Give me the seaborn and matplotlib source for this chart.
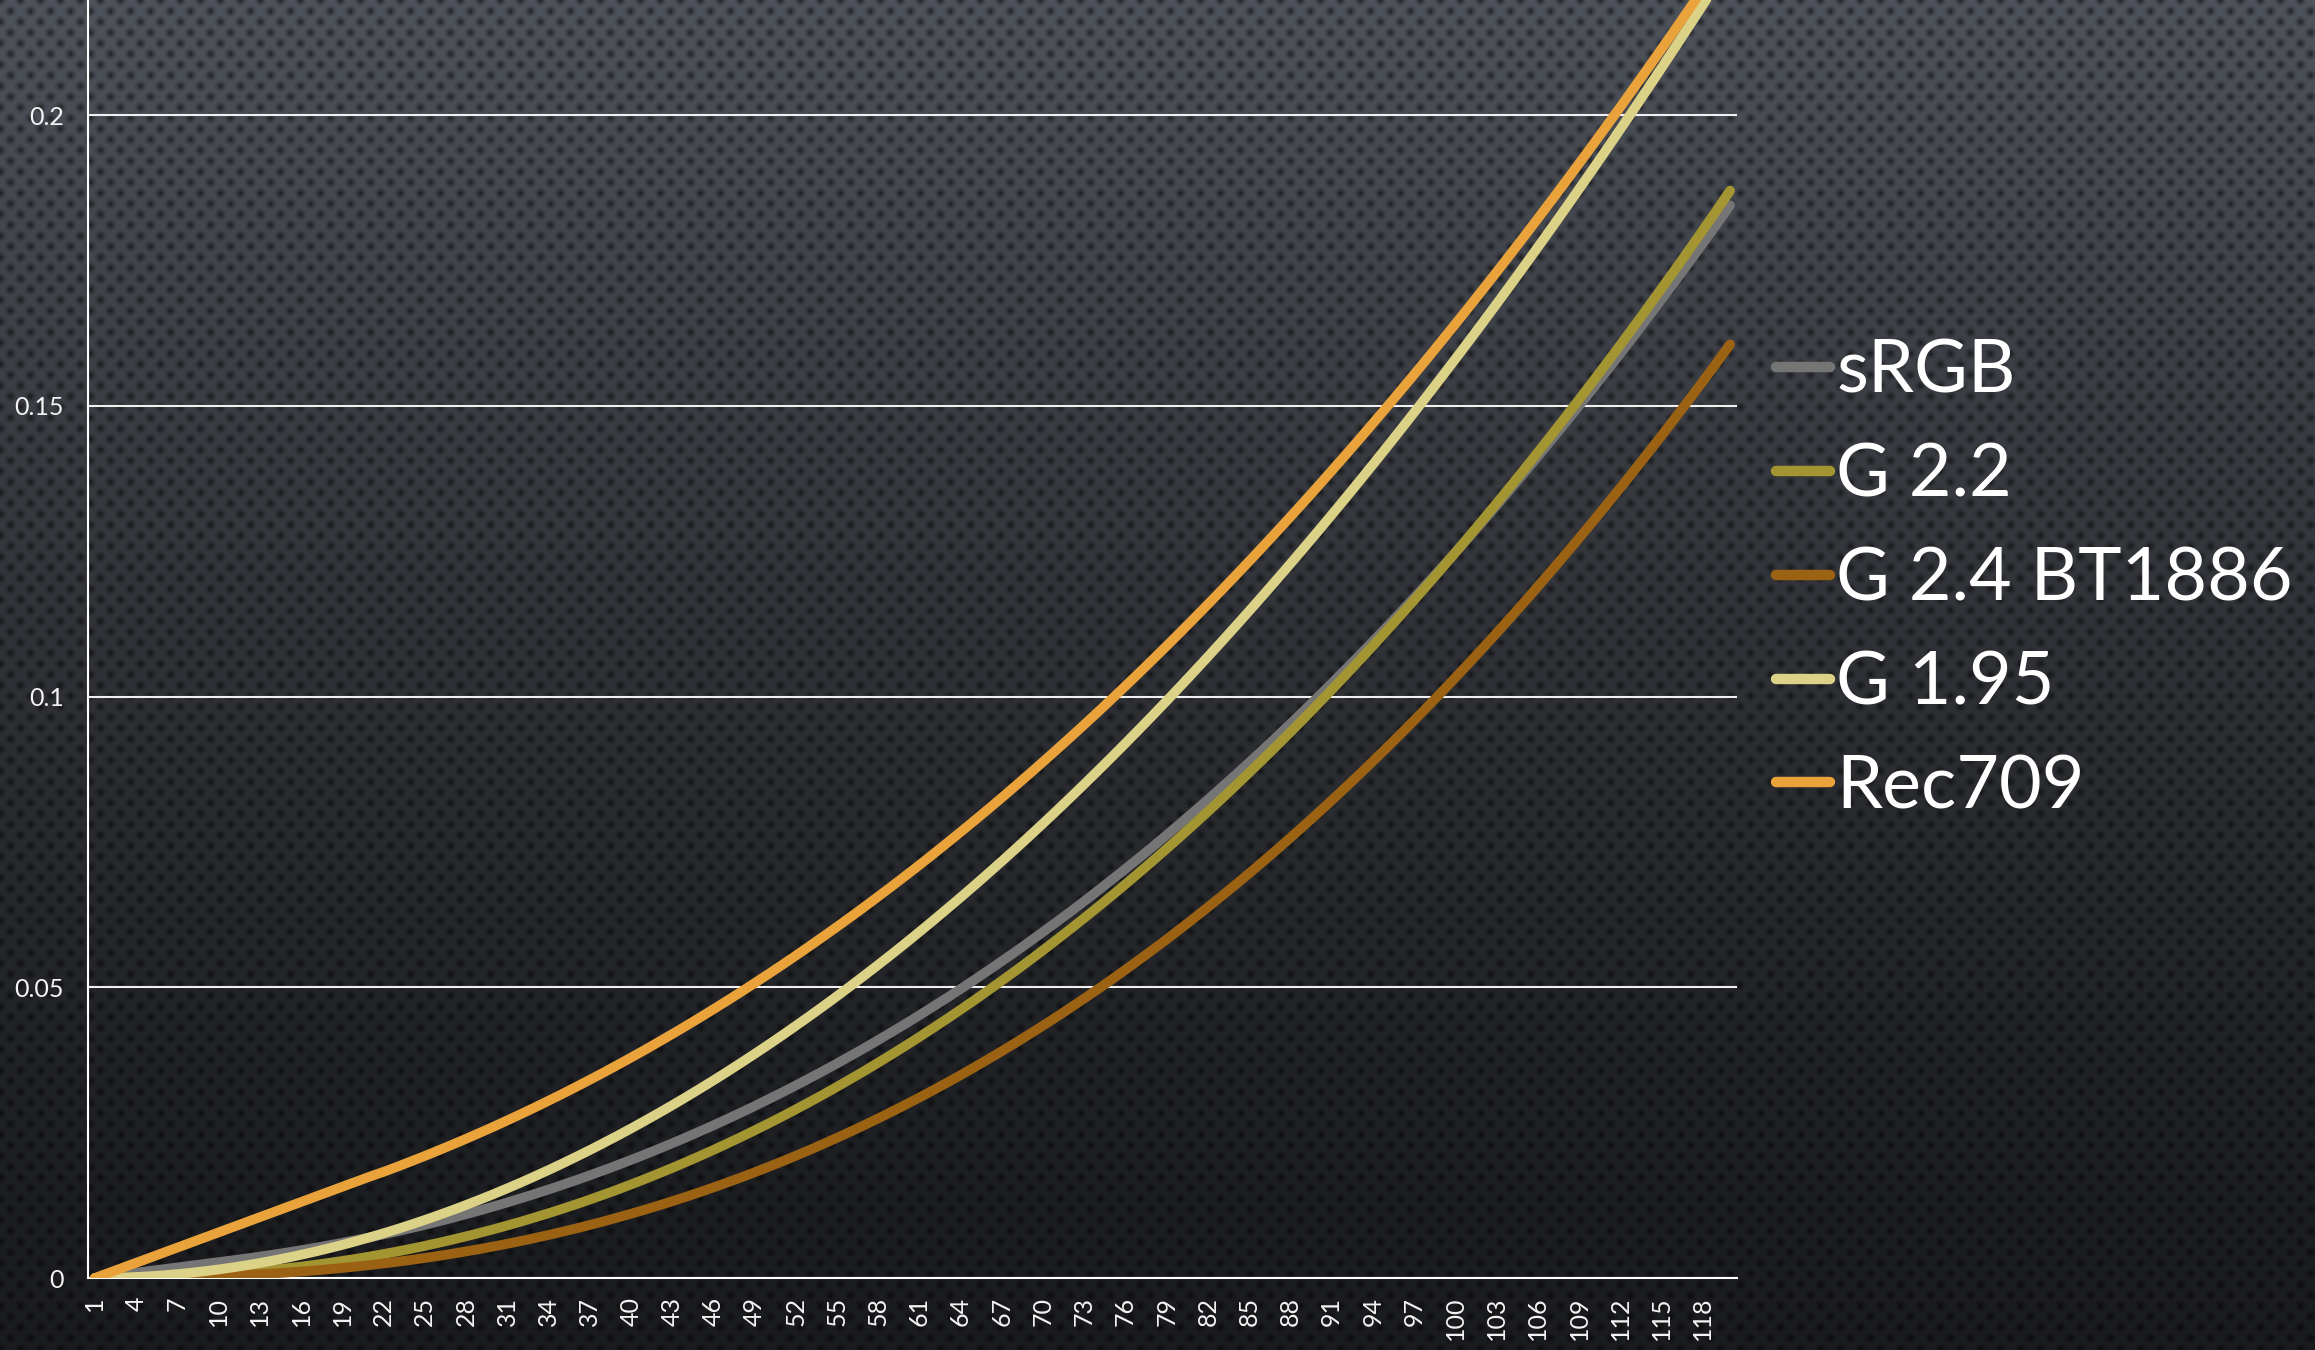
import numpy as np
import pandas as pd
import matplotlib
matplotlib.use("Agg")
import matplotlib.pyplot as plt
import seaborn as sns

# ---------------- data ----------------
categories = list(range(1, 121))

srgb = [0.0, 0.0003035, 0.0006071, 0.0009106, 0.0012141, 0.0015176, 0.0018212, 0.0021247, 0.0024282, 0.0027317,
        0.0030353, 0.0033466, 0.0036765, 0.0040247, 0.0043915, 0.0047771, 0.0051816, 0.0056054, 0.0060489, 0.0065121,
        0.0069954, 0.0074991, 0.0080232, 0.0085682, 0.0091341, 0.0097213, 0.0103299, 0.0109602, 0.0116123, 0.0122865,
        0.0129830, 0.0137023, 0.0144440, 0.0152086, 0.0159964, 0.0168074, 0.0176420, 0.0185002, 0.0193824, 0.0202889,
        0.0212192, 0.0221742, 0.0231536, 0.0241578, 0.0251870, 0.0262412, 0.0273208, 0.0284259, 0.0295568, 0.0307136,
        0.0318962, 0.0331050, 0.0343399, 0.0356014, 0.0368895, 0.0382044, 0.0395463, 0.0409154, 0.0423116, 0.0437352,
        0.0451862, 0.0466651, 0.0481719, 0.0497071, 0.0512699, 0.0528608, 0.0544806, 0.0561289, 0.0578057, 0.0595116,
        0.0612464, 0.0630103, 0.0648039, 0.0666263, 0.0684787, 0.0703603, 0.0722726, 0.0742141, 0.0761862, 0.0781880,
        0.0802218, 0.0822834, 0.0843766, 0.0865014, 0.0886561, 0.0908424, 0.0930599, 0.0953081, 0.0975880, 0.0999001,
        0.1022427, 0.1046175, 0.1070236, 0.1094630, 0.1119329, 0.1144360, 0.1169719, 0.1195392, 0.1221395, 0.1247734,
        0.1274393, 0.1301374, 0.1328694, 0.1356349, 0.1384330, 0.1412645, 0.1441291, 0.1470289, 0.1499605, 0.1529288,
        0.1559275, 0.1589620, 0.1620319, 0.1651330, 0.1682706, 0.1714417, 0.1746483, 0.1778900, 0.1811663, 0.1844771]

g22 = [0.0, 0.0000051, 0.0000233, 0.0000569, 0.0001072, 0.0001751, 0.0002615, 0.0003669, 0.0004925, 0.0006382,
       0.0008047, 0.0009924, 0.0012017, 0.0014331, 0.0016869, 0.0019634, 0.0022630, 0.0025858, 0.0029323, 0.0033027,
       0.0036972, 0.0041162, 0.0045598, 0.0050282, 0.0055217, 0.0060406, 0.0065850, 0.0071550, 0.0077510, 0.0083732,
       0.0090215, 0.0096963, 0.0103978, 0.0111260, 0.0118813, 0.0126636, 0.0134734, 0.0143105, 0.0151751, 0.0160677,
       0.0169880, 0.0179364, 0.0189129, 0.0199179, 0.0209511, 0.0220130, 0.0231036, 0.0242229, 0.0253713, 0.0265487,
       0.0277552, 0.0289910, 0.0302565, 0.0315513, 0.0328759, 0.0342301, 0.0356143, 0.0370285, 0.0384728, 0.0399471,
       0.0414517, 0.0429868, 0.0445523, 0.0461489, 0.0477756, 0.0494334, 0.0511219, 0.0528416, 0.0545921, 0.0563741,
       0.0581874, 0.0600314, 0.0619073, 0.0638150, 0.0657537, 0.0677244, 0.0697268, 0.0717613, 0.0738274, 0.0759260,
       0.0780566, 0.0802193, 0.0824143, 0.0846414, 0.0869013, 0.0891932, 0.0915182, 0.0938753, 0.0962662, 0.0986894,
       0.1011453, 0.1036340, 0.1061558, 0.1087110, 0.1112993, 0.1139224, 0.1165758, 0.1192633, 0.1219850, 0.1247407,
       0.1275294, 0.1303526, 0.1332078, 0.1360985, 0.1390218, 0.1419800, 0.1449721, 0.1479978, 0.1510575, 0.1541518,
       0.1572807, 0.1604427, 0.1636401, 0.1668714, 0.1701384, 0.1734386, 0.1767737, 0.1801441, 0.1835484, 0.1869886]

g24_bt1886 = [0.0, 0.0000017, 0.0000088, 0.0000234, 0.0000467, 0.0000798, 0.0001236, 0.0001787, 0.0002465, 0.0003270,
              0.0004210, 0.0005292, 0.0006521, 0.0007903, 0.0009441, 0.0011141, 0.0013007, 0.0015045, 0.0017257, 0.0019648,
              0.0022222, 0.0024982, 0.0027933, 0.0031078, 0.0034420, 0.0037963, 0.0041710, 0.0045664, 0.0049829, 0.0054208,
              0.0058802, 0.0063617, 0.0068654, 0.0073916, 0.0079406, 0.0085126, 0.0091081, 0.0097271, 0.0103702, 0.0110371,
              0.0117286, 0.0124447, 0.0131856, 0.0139518, 0.0147430, 0.0155601, 0.0164031, 0.0172718, 0.0181669, 0.0190886,
              0.0200368, 0.0210120, 0.0220146, 0.0230442, 0.0241017, 0.0251861, 0.0262998, 0.0274412, 0.0286110, 0.0298090,
              0.0310359, 0.0322916, 0.0335767, 0.0348916, 0.0362354, 0.0376092, 0.0390128, 0.0404466, 0.0419105, 0.0434051,
              0.0449306, 0.0464859, 0.0480728, 0.0496909, 0.0513404, 0.0530210, 0.0547333, 0.0564780, 0.0582541, 0.0600630,
              0.0619041, 0.0637776, 0.0656839, 0.0676223, 0.0695944, 0.0715989, 0.0736374, 0.0757084, 0.0778148, 0.0799542,
              0.0821271, 0.0843338, 0.0865749, 0.0888510, 0.0911612, 0.0935056, 0.0958859, 0.0982993, 0.1007492, 0.1032349,
              0.1057550, 0.1083119, 0.1109021, 0.1135305, 0.1161929, 0.1188929, 0.1216291, 0.1244008, 0.1272088, 0.1300546,
              0.1329370, 0.1358545, 0.1388110, 0.1418037, 0.1448355, 0.1479026, 0.1510079, 0.1541519, 0.1573322, 0.1605523]

g195 = [0.0, 0.0000203, 0.0000784, 0.0001728, 0.0003029, 0.0004680, 0.0006678, 0.0009020, 0.0011702, 0.0014724,
        0.0018082, 0.0021775, 0.0025802, 0.0030160, 0.0034849, 0.0039868, 0.0045215, 0.0050889, 0.0056889, 0.0063214,
        0.0069865, 0.0076838, 0.0084134, 0.0091752, 0.0099692, 0.0107952, 0.0116532, 0.0125432, 0.0134650, 0.0144186,
        0.0154039, 0.0164211, 0.0174697, 0.0185502, 0.0196621, 0.0208056, 0.0219804, 0.0231868, 0.0244244, 0.0256935,
        0.0269938, 0.0283254, 0.0296881, 0.0310820, 0.0325072, 0.0339634, 0.0354506, 0.0369690, 0.0385183, 0.0400986,
        0.0417103, 0.0433520, 0.0450250, 0.0467289, 0.0484635, 0.0502290, 0.0520253, 0.0538522, 0.0557097, 0.0575982,
        0.0595172, 0.0614668, 0.0634469, 0.0654578, 0.0674991, 0.0695710, 0.0716733, 0.0738063, 0.0759695, 0.0781633,
        0.0803874, 0.0826420, 0.0849270, 0.0872421, 0.0895878, 0.0919637, 0.0943700, 0.0968064, 0.0992731, 0.1017696,
        0.1042971, 0.1068545, 0.1094419, 0.1120597, 0.1147074, 0.1173854, 0.1200934, 0.1228316, 0.1255996, 0.1283977,
        0.1312260, 0.1340842, 0.1369724, 0.1398906, 0.1428390, 0.1458170, 0.1488250, 0.1518631, 0.1549310, 0.1580284,
        0.1611562, 0.1643135, 0.1675010, 0.1707180, 0.1739650, 0.1772417, 0.1805483, 0.1838845, 0.1872509, 0.1906464,
        0.1940719, 0.1975273, 0.2010121, 0.2045266, 0.2080709, 0.2116450, 0.2152486, 0.2188817, 0.2225446, 0.2262370]

rec709 = [0.0, 0.0008715, 0.0017429, 0.0026144, 0.0034858, 0.0043573, 0.0052288, 0.0061002, 0.0069717, 0.0078431,
          0.0087146, 0.0095861, 0.0104575, 0.0113290, 0.0122004, 0.0130719, 0.0139434, 0.0148148, 0.0156863, 0.0165577,
          0.0174292, 0.0182460, 0.0191344, 0.0200462, 0.0209812, 0.0219399, 0.0229221, 0.0239277, 0.0249578, 0.0260112,
          0.0270886, 0.0281906, 0.0293163, 0.0304666, 0.0316414, 0.0328403, 0.0340639, 0.0353121, 0.0365855, 0.0378833,
          0.0392060, 0.0405539, 0.0419270, 0.0433250, 0.0447484, 0.0461970, 0.0476713, 0.0491712, 0.0506962, 0.0522469,
          0.0538240, 0.0554266, 0.0570544, 0.0587090, 0.0603898, 0.0620962, 0.0638285, 0.0655874, 0.0673730, 0.0691847,
          0.0710227, 0.0728873, 0.0747793, 0.0766971, 0.0786421, 0.0806133, 0.0826121, 0.0846376, 0.0866899, 0.0887689,
          0.0908764, 0.0930099, 0.0951708, 0.0973595, 0.0995753, 0.1018186, 0.1040897, 0.1063882, 0.1087138, 0.1110677,
          0.1134493, 0.1158594, 0.1182963, 0.1207625, 0.1232546, 0.1257764, 0.1283253, 0.1309025, 0.1335074, 0.1361418,
          0.1388040, 0.1414952, 0.1442135, 0.1469618, 0.1497380, 0.1525428, 0.1553757, 0.1582391, 0.1611300, 0.1640494,
          0.1669975, 0.1699750, 0.1729817, 0.1760165, 0.1790806, 0.1821756, 0.1852978, 0.1884495, 0.1916310, 0.1948425,
          0.1980825, 0.2013515, 0.2046497, 0.2079781, 0.2113364, 0.2147237, 0.2181407, 0.2215886, 0.2250638, 0.2285734]

series_names = ["sRGB", "G 2.2", "G 2.4 BT1886", "G 1.95", "Rec709"]
series_values = [srgb, g22, g24_bt1886, g195, rec709]
series_colors = ["#757575", "#a39531", "#9c6213", "#dcd287", "#eaa33b"]

y_ticks = [0, 0.05, 0.1, 0.15, 0.2]
y_tick_labels = ["0", "0.05", "0.1", "0.15", "0.2"]
x_label_cats = categories[::3]
x_tick_labels = [str(c) for c in x_label_cats]

df = pd.DataFrame({
    "category": categories * len(series_names),
    "value": [v for vals in series_values for v in vals],
    "series": [n for n in series_names for _ in categories],
})

# ---------------- figure ----------------
sns.set_theme(style="white")
plt.rcParams["font.family"] = ["Lato", "DejaVu Sans"]
TXT = "#f4f4f4"

W, H = 2315, 1350
DPI = 100
fig = plt.figure(figsize=(W / DPI, H / DPI), dpi=DPI)

# textured dark background (perforated metal look)
yy, xx = np.mgrid[0:H, 0:W].astype(np.float32)
t = yy / H
top_c = np.array([0x50, 0x54, 0x5c], dtype=np.float32) / 255
bot_c = np.array([0x1b, 0x1c, 0x1f], dtype=np.float32) / 255
w_grad = ((1 - t) ** 1.4)[..., None]
base = bot_c + (top_c - bot_c) * w_grad
px, py = 20.0, 21.4
def d2(ox, oy):
    dx = (xx - ox + px / 2) % px - px / 2
    dy = (yy - oy + py / 2) % py - py / 2
    return dx * dx + dy * dy
dd = np.minimum(d2(0, 0), d2(px / 2, py / 2))
dots = np.exp(-dd / (2 * 2.8 ** 2))
img = base * (1 - 0.5 * dots[..., None])
img = np.clip(img, 0, 1)
fig.figimage(img, 0, 0, origin="upper", zorder=-5)

ax = fig.add_axes([88 / W, (H - 1278) / H, (1737 - 88) / W, 1278 / H])
ax.set_facecolor("none")

sns.lineplot(data=df, x="category", y="value", hue="series", hue_order=series_names,
             palette=dict(zip(series_names, series_colors)), linewidth=7.0,
             solid_capstyle="round", errorbar=None, ax=ax, zorder=3)

ax.set_xlim(0.5, 120.5)
ax.set_ylim(0, 0.21978)
ax.set_xlabel("")
ax.set_ylabel("")

# x ticks: marks at category boundaries, labels every third category
ax.set_xticks(np.arange(0.5, 121, 1.0))
ax.set_xticklabels([])
ax.set_xticks(x_label_cats, minor=True)
ax.set_xticklabels(x_tick_labels, minor=True, rotation=90, fontsize=18,
                   color=TXT, fontweight="normal")
ax.tick_params(axis="x", which="major", length=6.5, width=1.2, color="white", direction="out")
ax.tick_params(axis="x", which="minor", length=0, pad=13.5, labelcolor=TXT)

ax.set_yticks(y_ticks)
ax.set_yticklabels(y_tick_labels, fontsize=18, color=TXT, fontweight="normal")
ax.tick_params(axis="y", which="major", length=6.5, width=1.5, color="white", direction="out",
               pad=11, labelcolor=TXT)

ax.yaxis.grid(True, color="#f0f0f0", linewidth=1.5, zorder=1)
ax.xaxis.grid(False)
ax.set_axisbelow(True)
for side in ["top", "right"]:
    ax.spines[side].set_visible(False)
for side in ["left", "bottom"]:
    ax.spines[side].set_color("white")
    ax.spines[side].set_linewidth(1.5)

handles, labels = ax.get_legend_handles_labels()
leg = ax.legend(handles, labels, loc="center left",
                bbox_to_anchor=(1776 / W, 1 - 580 / H), bbox_transform=fig.transFigure,
                frameon=False, fontsize=53, labelcolor="white",
                handlelength=0.74, handletextpad=0.08, labelspacing=0.50,
                borderpad=0, borderaxespad=0)
for txt in leg.get_texts():
    txt.set_fontweight("normal")
for ln in leg.get_lines():
    ln.set_linewidth(7.5)
    ln.set_solid_capstyle("round")

fig.savefig("out.png", dpi=DPI)
